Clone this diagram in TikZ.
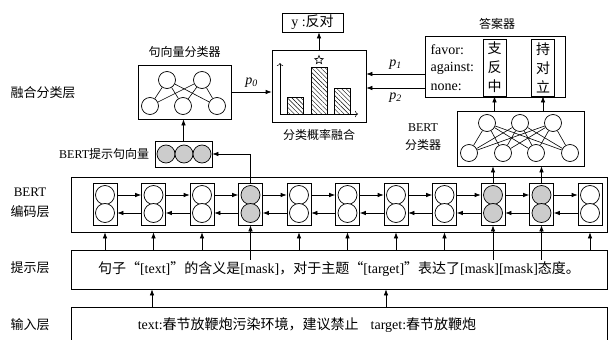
\documentclass[tikz,border=0pt]{standalone}
\usepackage{fontspec}
\setmainfont{Liberation Serif}
\newfontfamily\cjk{Noto Sans CJK SC}
\usetikzlibrary{arrows.meta,calc,patterns.meta,shapes.geometric,positioning}
\newcommand{\zh}[1]{{\cjk #1}}
\tikzset{
  box/.style={draw, line width=0.7pt, inner sep=0pt},
  cell/.style={draw, line width=0.7pt, minimum width=24pt, minimum height=42pt, inner sep=0pt},
  unit/.style={circle, draw, line width=0.7pt, minimum size=19pt, inner sep=0pt},
  neuron/.style={circle, draw, line width=0.7pt, minimum size=17pt, inner sep=0pt},
  arr/.style={-{Latex[length=6pt,width=4.5pt]}, line width=0.7pt},
  lbl/.style={font=\fontsize{12}{18}\selectfont, align=center},
  layer/.style={font=\fontsize{13}{20}\selectfont, align=center},
  column/.style={box, align=center, minimum width=23pt, minimum height=57pt,
    font=\cjk\fontsize{14}{19}\selectfont},
  bar/.style={line width=0.6pt, pattern={Lines[angle=-45,distance=3.2pt,line width=0.4pt]}},
}
\begin{document}
\begin{tikzpicture}[x=1pt, y=-1pt, font=\fontsize{14}{17}\selectfont]
\useasboundingbox (0,0) rectangle (608,340);

% Layer labels
\node[layer] (lfuse) at (43,93) {\zh{融合分类层}};
\node[layer] (lenc) at (30,203) {BERT\\\zh{编码层}};
\node[layer] (lprompt) at (30,268) {\zh{提示层}};
\node[layer] (linput) at (30,325) {\zh{输入层}};

% Input and prompt
\node[box, minimum width=536pt, minimum height=36pt] (input) at (339,325) {};
\node (intext) at (307,325) {text:\zh{春节放鞭炮污染环境，建议禁止}\hspace{12pt}target:\zh{春节放鞭炮}};
\node[box, minimum width=536pt, minimum height=39pt] (prompt) at (339,269.5)
  {\zh{句子“}[text]\zh{”的含义是}[mask]\zh{，对于主题“}[target]\zh{”表达了}[mask][mask]\zh{态度。}};
\draw[arr] (input.north -| 152,0) -- (prompt.south -| 152,0);
\draw[arr] ($(input.north)+(47,0)$) -- ($(prompt.south)+(47,0)$);

% Encoder
\node[box, minimum width=536pt, minimum height=55pt] (enc) at (339,204.5) {};
\foreach \i/\c in {1/white,2/white,3/white,4/black!20,5/white,6/white,
                   7/white,8/white,9/black!20,10/black!20,11/white} {
  \node[cell] (c\i) at ({105+(\i-1)*48.5},204) {};
  \node[unit, fill=\c] (u\i) at ($(c\i)+(0,-9)$) {};
  \node[unit, fill=\c] (d\i) at ($(c\i)+(0,9)$) {};
}
\foreach \i [evaluate=\i as \j using int(\i+1)] in {1,...,10} {
  \draw[arr] (c\i.east |- u\i) -- (c\j.west |- u\j);
  \draw[arr] (c\j.west |- d\j) -- (c\i.east |- d\i);
}
\foreach \i in {1,2,3,5,6,7,8,11}
  \draw[arr] (c\i |- prompt.north) -- (c\i |- enc.south);
\foreach \i in {4,9,10}
  \draw[arr] ($(c\i |- prompt.north)+(0,10)$) -- (c\i.south);

% Sentence vector
\node[box, minimum width=57pt, minimum height=26pt] (sv) at (183.5,154) {};
\node[unit, fill=black!20, minimum size=18pt] (s1) at (166,154) {};
\node[unit, fill=black!20, minimum size=18pt] (s2) at (184,154) {};
\node[unit, fill=black!20, minimum size=18pt] (s3) at (202,154) {};
\node[lbl, left=2pt of sv] (svlabel) {BERT\zh{提示句向量}};
\draw[arr] (c4.north) |- (sv.east);

% Sentence classifier
\node[box, minimum width=93pt, minimum height=54pt] (scls) at (184.5,92) {};
\node[neuron] (t1) at (167,80) {};
\node[neuron] (t2) at (202,80) {};
\node[neuron] (b1) at (150,106) {};
\node[neuron] (b2) at (183,106) {};
\node[neuron] (b3) at (217,106) {};
\foreach \a in {1,2}
  \foreach \b in {1,2,3}
    \draw[line width=0.6pt] (t\a) -- (b\b);
\node[lbl, above=4pt of scls] (sclabel) {\zh{句向量分类器}};
\draw[arr] (sv.north) -- (sv.north |- scls.south);

% Histogram
\node[box, minimum width=94pt, minimum height=72pt] (hist) at (319,86) {};
\node[lbl, below=3pt of hist] (histlabel) {\zh{分类概率融合}};
\draw[->, line width=0.6pt] (280,114) -- (280,63);
\draw[->, line width=0.6pt] (280,114) -- (358,114);
\draw[bar] (287,114) rectangle (303,97);
\draw[bar] (311,114) rectangle (327,67);
\draw[bar] (334,114) rectangle (350,88);
\node[star, star points=5, star point ratio=2.3, draw, line width=0.6pt,
  minimum size=9pt, inner sep=0pt] (best) at (319,60) {};
\draw[arr] (scls.east) -- (scls.east -| hist.west)
  node[midway, above=1pt] {\textit{p}\textsubscript{\textit{0}}};

% Output
\node[box, minimum width=61pt, minimum height=19pt] (ybox) at (312.5,22.5) {y :\zh{反对}};
\draw[arr] (hist.north) -- (hist.north |- ybox.south);

% Answer mapper
\node[box, minimum width=140pt, minimum height=61pt] (ans) at (495,66.5) {};
\node[lbl] (anslabel) at (497,24) {\zh{答案器}};
\node[anchor=west] (favor) at (427,50) {favor:};
\node[anchor=west] (against) at (427,68) {against:};
\node[anchor=west] (none) at (427,87) {none:};
\node[column] (col1) at (494.5,67.5) {支\\反\\中};
\node[column] (col2) at (543,67.5) {持\\对\\立};
\coordinate (p1s) at ($(ans.west)+(0,7.5)$);
\coordinate (p2s) at ($(ans.west)+(0,21.5)$);
\draw[arr] (p1s) -- (p1s -| hist.east)
  node[midway, above=1pt] {\textit{p}\textsubscript{\textit{1}}};
\draw[arr] (p2s) -- (p2s -| hist.east)
  node[midway, below=1pt] {\textit{p}\textsubscript{\textit{2}}};

% BERT classifier
\node[box, minimum width=127pt, minimum height=55pt] (bcls) at (520.5,138.5) {};
\node[neuron] (r1) at (487,123) {};
\node[neuron] (r2) at (520,123) {};
\node[neuron] (r3) at (553,123) {};
\node[neuron] (q1) at (469,153) {};
\node[neuron] (q2) at (503,153) {};
\node[neuron] (q3) at (536,153) {};
\node[neuron] (q4) at (570,153) {};
\foreach \a in {1,2,3}
  \foreach \b in {1,2,3,4}
    \draw[line width=0.6pt] (r\a) -- (q\b);
\node[lbl] (bclabel) at (423,137) {BERT\\\zh{分类器}};
\draw[arr] (c9.north) -- (c9 |- bcls.south);
\draw[arr] (c10.north) -- (c10 |- bcls.south);
\draw[arr] (bcls.north -| col1) -- (col1.south);
\draw[arr] (bcls.north -| col2) -- (col2.south);

\end{tikzpicture}
\end{document}
